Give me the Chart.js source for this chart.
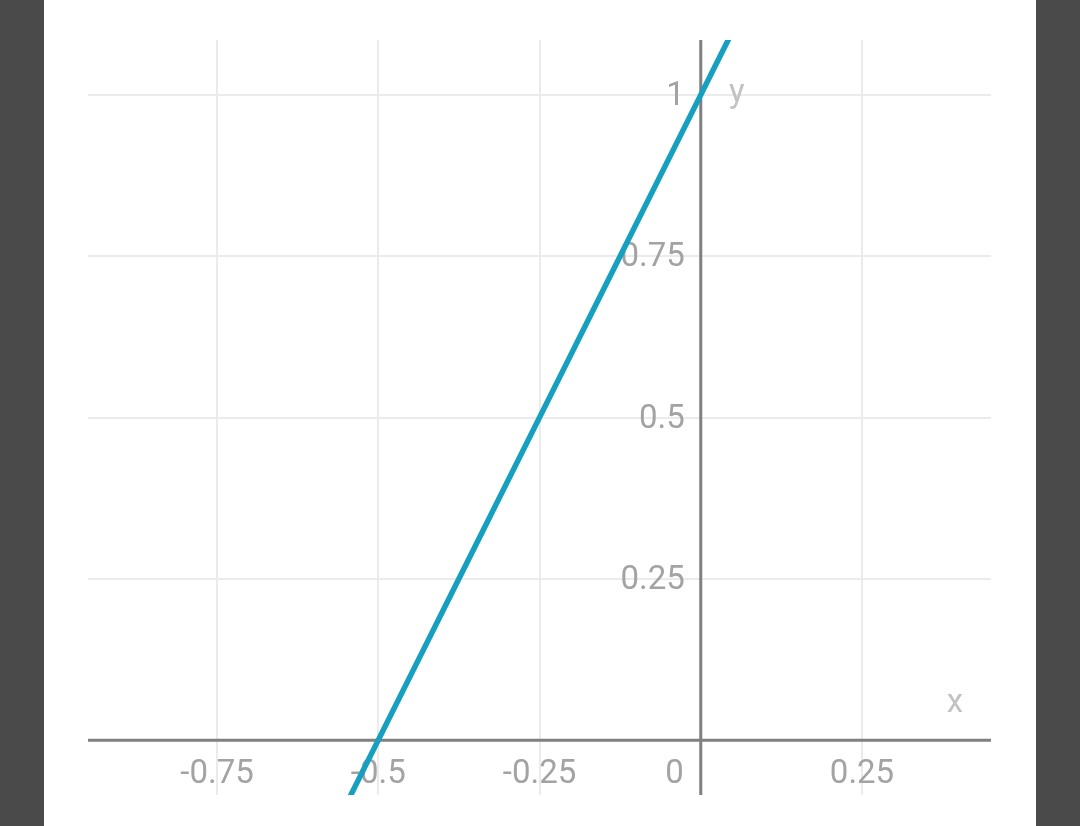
<!DOCTYPE html>
<html>
<head>
<meta charset="utf-8">
<script src="https://cdn.jsdelivr.net/npm/chart.js@4/dist/chart.umd.min.js"></script>
<style>
    html, body { margin: 0; padding: 0; background: #4a4a4a; }
    #frame { position: absolute; left: 44px; top: 0; width: 992px; height: 826px; background: #fff; }
</style>
</head>
<body>
<div id="frame"><canvas id="graph"></canvas></div>
<script>
// points (line through (-0.5, 0) and (0, 1))
const lineX = [-0.55, 0.05];
const lineY = [-0.1, 1.1];

const xTicks = [-0.75, -0.5, -0.25, 0, 0.25];
const yTicks = [0.25, 0.5, 0.75, 1];
const xTickLabels = ['-0.75', '-0.5', '-0.25', '0', '0.25'];
const yTickLabels = ['0.25', '0.5', '0.75', '1'];

const xRange = [-0.95, 0.45];
const yRange = [-0.085, 1.085];

// axis lines at zero + labels next to them, drawn under the line
const axesPlugin = {
    id: 'zeroAxes',
    beforeDatasetsDraw(chart) {
        const ctx = chart.ctx;
        const sx = chart.scales.x, sy = chart.scales.y;
        const area = chart.chartArea;
        const x0 = sx.getPixelForValue(0);
        const y0 = sy.getPixelForValue(0);

        ctx.save();
        ctx.strokeStyle = '#808080';
        ctx.lineWidth = 3;
        ctx.beginPath();
        ctx.moveTo(area.left, y0);
        ctx.lineTo(area.right, y0);
        ctx.moveTo(x0, area.top);
        ctx.lineTo(x0, area.bottom);
        ctx.stroke();

        ctx.font = '33px Roboto';
        ctx.fillStyle = '#a3a3a3';
        ctx.textBaseline = 'middle';
        xTicks.forEach((v, i) => {
            if (v === 0) {
                ctx.textAlign = 'right';
                ctx.fillText(xTickLabels[i], x0 - 17, y0 + 35);
            } else {
                ctx.textAlign = 'center';
                ctx.fillText(xTickLabels[i], sx.getPixelForValue(v), y0 + 35);
            }
        });
        ctx.textAlign = 'right';
        yTicks.forEach((v, i) => {
            ctx.fillText(yTickLabels[i], x0 - 16, sy.getPixelForValue(v) + 2);
        });

        ctx.fillStyle = '#c2c2c2';
        ctx.textAlign = 'center';
        ctx.fillText('x', area.right - 36, y0 - 36);
        ctx.fillText('y', x0 + 36, area.top + 54);
        ctx.restore();
    }
};

new Chart(document.getElementById('graph'), {
    type: 'scatter',
    data: {
        datasets: [{
            data: lineX.map((x, i) => ({ x: x, y: lineY[i] })),
            showLine: true,
            borderColor: '#179fbf',
            borderWidth: 5.5,
            pointRadius: 0,
            fill: false
        }]
    },
    options: {
        responsive: true,
        maintainAspectRatio: false,
        animation: false,
        layout: { padding: { left: 44, right: 45, top: 40, bottom: 31 } },
        plugins: { legend: { display: false }, tooltip: { enabled: false } },
        scales: {
            x: {
                type: 'linear',
                min: xRange[0],
                max: xRange[1],
                afterBuildTicks: s => { s.ticks = xTicks.map(v => ({ value: v })); },
                ticks: { display: false },
                border: { display: false },
                grid: { color: '#ebebeb', lineWidth: 2, drawTicks: false }
            },
            y: {
                type: 'linear',
                min: yRange[0],
                max: yRange[1],
                afterBuildTicks: s => { s.ticks = yTicks.map(v => ({ value: v })); },
                ticks: { display: false },
                border: { display: false },
                grid: { color: '#ebebeb', lineWidth: 2, drawTicks: false }
            }
        }
    },
    plugins: [axesPlugin]
});
</script>
</body>
</html>
